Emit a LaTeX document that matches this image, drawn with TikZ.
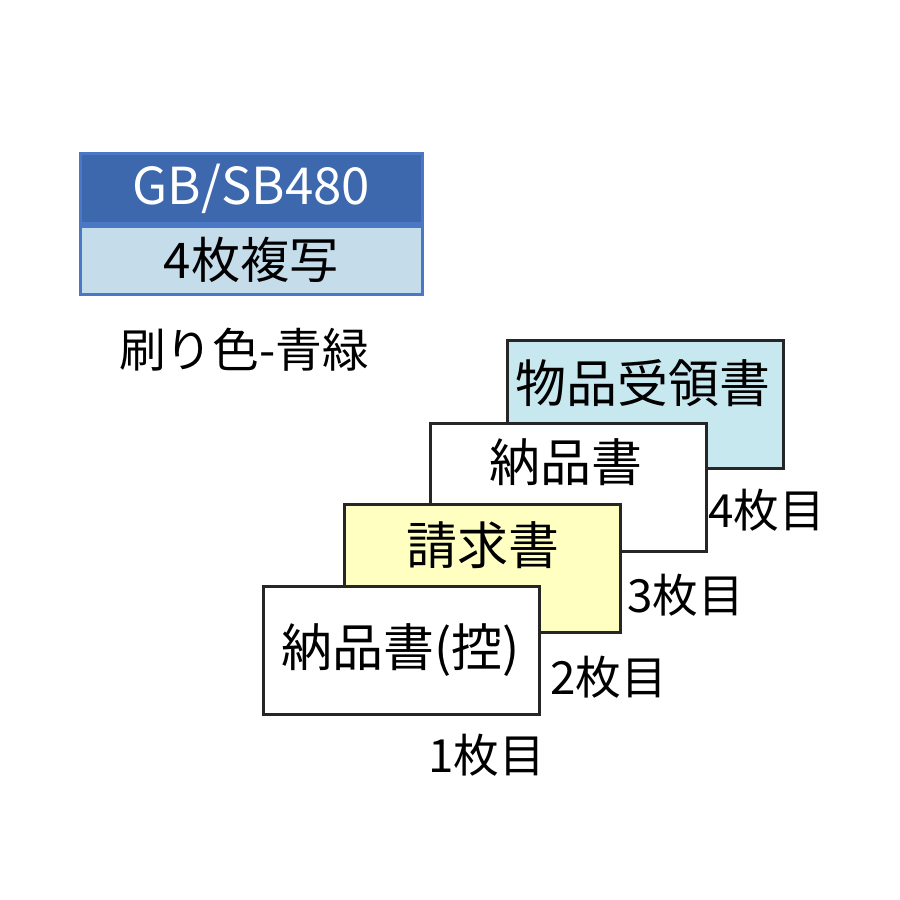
\documentclass[tikz,border=0pt]{standalone}
\usepackage{fontspec}
\setmainfont{Noto Sans CJK JP}
\usetikzlibrary{positioning}
\definecolor{mydarkblue}{RGB}{61,104,174}
\definecolor{mylineblue}{RGB}{74,120,196}
\definecolor{mypaleblue}{RGB}{197,220,235}
\definecolor{mycyan}{RGB}{200,232,240}
\definecolor{myyellow}{RGB}{255,255,194}

\begin{document}
\begin{tikzpicture}[
  sheet/.style={draw=black!85, line width=0.8pt, anchor=south west, minimum width=2.76cm, minimum height=1.28cm, inner sep=0pt},
  sheettext/.style={font=\fontsize{14.5}{16}\selectfont, inner sep=0pt},
  count/.style={font=\fontsize{13}{15}\selectfont, inner sep=0pt}]

\useasboundingbox (0,0) rectangle (9,9);

% Model name and copies
\node[draw=mylineblue, line width=0.8pt, fill=mydarkblue, anchor=north west, minimum width=3.42cm, minimum height=0.70cm, inner sep=0pt, text=white, font=\fontsize{14.5}{16}\selectfont]
(model) at (0.79,7.48) {GB/SB480};
\node[draw=mylineblue, line width=0.8pt, fill=mypaleblue, anchor=north, minimum width=3.42cm, minimum height=0.68cm, inner sep=0pt, font=\fontsize{14}{16}\selectfont]
(copies) at (model.south) {4枚複写};

% print colour
\node[font=\fontsize{13.3}{15}\selectfont, inner sep=0pt] (ink) at (2.44,5.50) {刷り色-青緑};

% sheets, back to front
\node[sheet, fill=mycyan] (s4) at (5.06,4.30) {};
\node[sheettext] (t4) at (6.43,5.17) {物品受領書};

\node[sheet, fill=white] (s3) at (4.29,3.47) {};
\node[sheettext] (t3) at (5.66,4.38) {納品書};

\node[sheet, fill=myyellow] (s2) at (3.43,2.66) {};
\node[sheettext] (t2) at (4.83,3.55) {請求書};

\node[sheet, fill=white] (s1) at (2.62,1.84) {};
\node[sheettext] (t1) at (4.01,2.50) {納品書(控)};

% page numbers
\node[count] (c4) at (7.67,3.90) {4枚目};
\node[count] (c3) at (6.86,3.05) {3枚目};
\node[count] (c2) at (6.09,2.23) {2枚目};
\node[count] (c1) at (4.87,1.45) {1枚目};

\end{tikzpicture}
\end{document}
